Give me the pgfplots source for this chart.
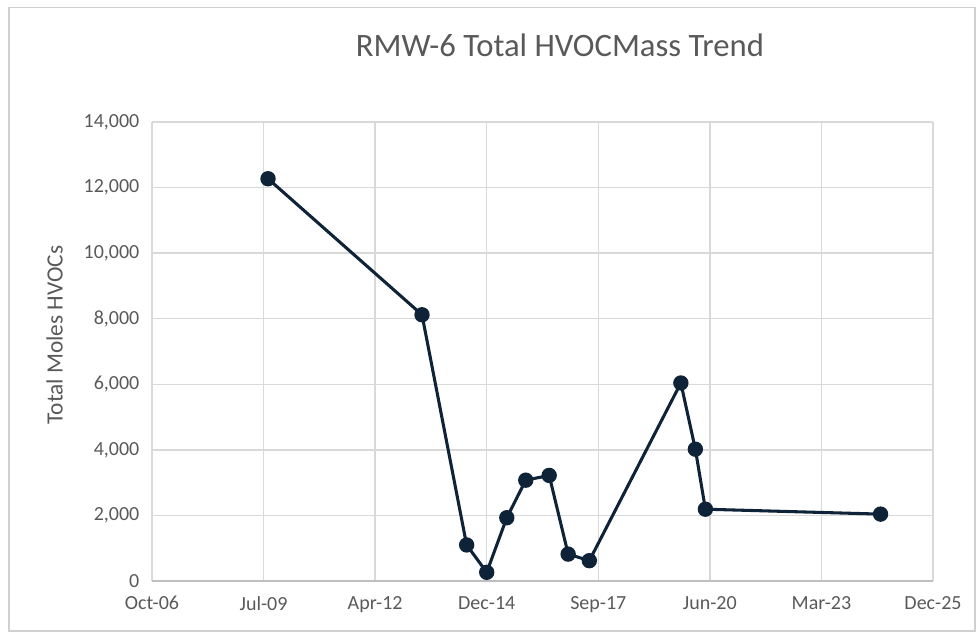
\documentclass[border=0pt]{standalone}
\usepackage{pgfplots}
\pgfplotsset{compat=1.18}
\usepackage{fontspec}
\setmainfont{Carlito}
\definecolor{txtgray}{HTML}{595959}
\definecolor{gridgray}{HTML}{D9D9D9}
\definecolor{axisgray}{HTML}{BFBFBF}
\definecolor{navy}{HTML}{0E2338}
\definecolor{framegray}{HTML}{D0D0D0}

\begin{document}
\begin{tikzpicture}
% x values are Excel date serials
\begin{axis}[
    scale only axis,
    width=585.75pt, height=344.25pt,
    xmin=39000, xmax=46000,
    ymin=0, ymax=14000,
    scaled x ticks=false, scaled y ticks=false,
    xtick={39000,40000,41000,42000,43000,44000,45000,46000},
    xticklabels={Oct-06,Jul-09,Apr-12,Dec-14,Sep-17,Jun-20,Mar-23,Dec-25},
    ytick={0,2000,4000,6000,8000,10000,12000,14000},
    yticklabels={0,{2,000},{4,000},{6,000},{8,000},{10,000},{12,000},{14,000}},
    grid=major,
    major grid style={gridgray, line width=1pt},
    axis x line*=bottom,
    axis y line*=left,
    x axis line style={axisgray, line width=1.2pt, -},
    y axis line style={draw=none},
    tick style={draw=none},
    tick label style={font=\fontsize{15}{17}\selectfont, text=txtgray},
    xticklabel style={yshift=-8pt},
    yticklabel style={xshift=-6pt},
    clip=false,
]
\addplot[navy, line width=2.3pt, mark=*, mark size=4.6pt, mark options={fill=navy, draw=navy}]
coordinates {
 (40040,12270) (41420,8120) (41820,1100) (42000,265) (42180,1930)
 (42350,3075) (42560,3220) (42730,820) (42920,620) (43740,6040)
 (43870,4020) (43960,2190) (45530,2040)
};
\end{axis}
% y label
\node[rotate=90, text=txtgray, font=\fontsize{17.5}{20}\selectfont] at (-73pt,184.5pt) {Total Moles HVOCs};
% title
\node[text=txtgray, font=\fontsize{24.5}{28}\selectfont] at (306pt,402pt) {RMW-6 Total HVOCMass Trend};
% chart frame
\draw[framegray, line width=1pt] (-107.25pt,-37.5pt) rectangle (617.25pt,430pt);
\useasboundingbox (-114pt,-40.5pt) rectangle (621pt,435.75pt);
\end{tikzpicture}
\end{document}
